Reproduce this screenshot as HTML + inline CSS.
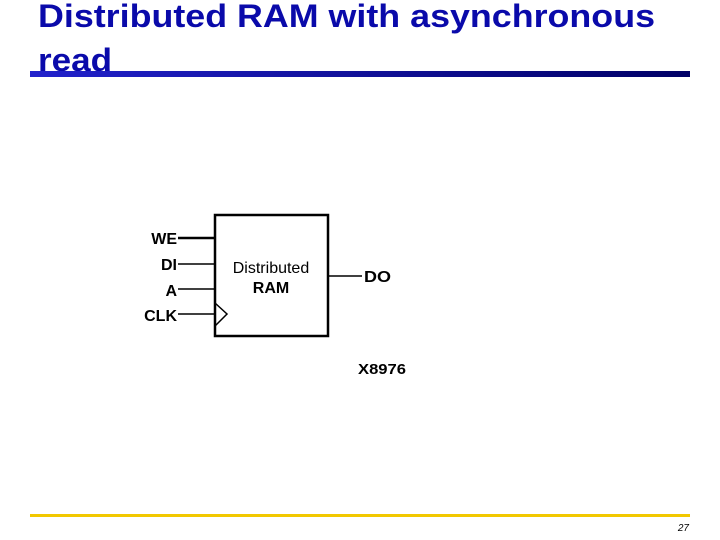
<!DOCTYPE html>
<html><head><style>body{margin:0;background:#fff}svg{display:block}</style></head><body>
<svg width="720" height="540" viewBox="0 0 720 540" xmlns="http://www.w3.org/2000/svg" font-family="Liberation Sans, Arial, sans-serif">
<defs><linearGradient id="g" x1="0" x2="1"><stop offset="0" stop-color="#2222cc"/><stop offset="1" stop-color="#000066"/></linearGradient></defs>
<text x="38" y="27" font-size="32" font-weight="bold" fill="#0a0aaa" textLength="617" lengthAdjust="spacingAndGlyphs">Distributed RAM with asynchronous</text>
<text x="38" y="71" font-size="32" font-weight="bold" fill="#0a0aaa" textLength="74" lengthAdjust="spacingAndGlyphs">read</text>
<rect x="30" y="71" width="660" height="6" fill="url(#g)"/>
<rect x="30" y="514" width="660" height="3" fill="#f2c800"/>
<text x="689" y="531" font-size="10" font-style="italic" text-anchor="end" fill="#000">27</text>
<rect x="215" y="215" width="113" height="121" fill="none" stroke="#000" stroke-width="2.5"/>
<g stroke="#000">
<line x1="178" y1="238" x2="215" y2="238" stroke-width="2.5"/>
<line x1="178" y1="264" x2="215" y2="264" stroke-width="1.5"/>
<line x1="178" y1="289" x2="215" y2="289" stroke-width="1.5"/>
<line x1="178" y1="314" x2="215" y2="314" stroke-width="1.5"/>
<line x1="329" y1="276" x2="362" y2="276" stroke-width="1.5"/>
<polyline points="215,303 227,314 215,326" fill="none" stroke-width="1.5"/>
</g>
<g font-size="16" font-weight="bold" fill="#000">
<text x="177" y="244" text-anchor="end">WE</text>
<text x="177" y="270" text-anchor="end">DI</text>
<text x="177" y="296" text-anchor="end">A</text>
<text x="177" y="321" text-anchor="end">CLK</text>
<text x="364" y="282" textLength="27" lengthAdjust="spacingAndGlyphs">DO</text>
<text x="358" y="374" font-size="15" textLength="48" lengthAdjust="spacingAndGlyphs">X8976</text>
</g>
<g font-size="16" fill="#000" text-anchor="middle">
<text x="271" y="273">Distributed</text>
<text x="271" y="293" font-weight="bold">RAM</text>
</g>
</svg>
</body></html>
